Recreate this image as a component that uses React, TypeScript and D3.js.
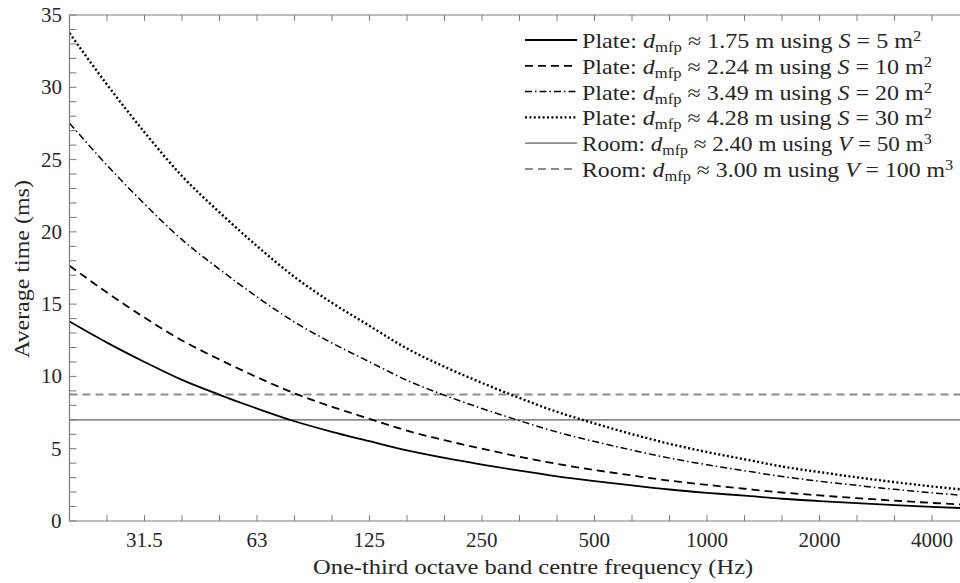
import React, { useLayoutEffect, useRef, useState } from "react";
import * as d3 from "d3";

const bands = ["20","25","31.5","40","50","63","80","100","125","160","200","250","315","400","500","630","800","1000","1250","1600","2000","2500","3150","4000","5000"];
const labelledBands = ["31.5","63","125","250","500","1000","2000","4000"];

const plate5 = [13.80,12.34,11.00,9.76,8.73,7.78,6.90,6.17,5.52,4.88,4.36,3.90,3.48,3.09,2.76,2.46,2.18,1.95,1.75,1.54,1.38,1.23,1.10,0.98,0.87];
const plate10 = [17.66,15.80,14.07,12.49,11.17,9.95,8.83,7.90,7.07,6.25,5.59,5.00,4.45,3.95,3.53,3.15,2.79,2.50,2.23,1.97,1.77,1.58,1.41,1.25,1.12];
const plate20 = [27.52,24.61,21.93,19.46,17.41,15.50,13.76,12.31,11.01,9.73,8.70,7.78,6.94,6.15,5.50,4.90,4.35,3.89,3.48,3.08,2.75,2.46,2.19,1.95,1.74];
const plate30 = [33.75,30.19,26.89,23.86,21.35,19.02,16.88,15.09,13.50,11.93,10.67,9.55,8.51,7.55,6.75,6.01,5.34,4.77,4.27,3.77,3.38,3.02,2.69,2.39,2.13];
const room50 = 7.0;
const room100 = 8.75;

const yTicks = [0,5,10,15,20,25,30,35];

const legendRows = [
  { kind: "Plate", d: "1.75", sym: "S", val: "5", unit: "2" },
  { kind: "Plate", d: "2.24", sym: "S", val: "10", unit: "2" },
  { kind: "Plate", d: "3.49", sym: "S", val: "20", unit: "2" },
  { kind: "Plate", d: "4.28", sym: "S", val: "30", unit: "2" },
  { kind: "Room", d: "2.40", sym: "V", val: "50", unit: "3" },
  { kind: "Room", d: "3.00", sym: "V", val: "100", unit: "3" },
];
const legendWidths = [340, 350, 350, 350, 350, 371];

const styles = [
  { stroke: "#000", width: 1.8, dash: "" },
  { stroke: "#000", width: 1.8, dash: "8,5" },
  { stroke: "#000", width: 1.5, dash: "7,3,1.5,3" },
  { stroke: "#000", width: 2.4, dash: "2,2.4" },
  { stroke: "#8c8c8c", width: 1.8, dash: "" },
  { stroke: "#8c8c8c", width: 1.8, dash: "8,5" },
];

const FF = "'Liberation Serif', 'Times New Roman', serif";
const TXT = "#262626";
const AX = "#7a7a7a";

type LP = { x: number; y: number; size: number; anchor?: "start" | "middle" | "end"; target?: number; rotate?: number; children: React.ReactNode };
function Label({ x, y, size, anchor = "start", target, rotate, children }: LP) {
  const ref = useRef<HTMLDivElement>(null);
  const [w, setW] = useState(0);
  useLayoutEffect(() => {
    if (ref.current) setW(ref.current.offsetWidth);
  }, []);
  const s = target && w ? target / w : 1;
  const shift = anchor === "middle" ? -(w * s) / 2 : anchor === "end" ? -w * s : 0;
  return (
    <div ref={ref} style={{
      position: "absolute", left: x, top: y, fontSize: size, lineHeight: 1, whiteSpace: "nowrap",
      fontFamily: FF, color: TXT, transformOrigin: "0 0",
      transform: `${rotate ? `rotate(${rotate}deg) ` : ""}translate(${shift}px, -50%) scaleX(${s})`,
    }}>{children}</div>
  );
}

export default function App() {
  const W = 960, H = 583;
  const left = 69.5, top = 15, bottom = 521;
  const x = d3.scaleLinear().domain([0, bands.length - 1]).range([left, left + 37.5 * (bands.length - 1)]);
  const y = d3.scaleLinear().domain([0, 35]).range([bottom, top]);
  const line = d3.line<number>().x((_, i) => x(i)).y(d => y(d)).curve(d3.curveMonotoneX);
  const series = [plate5, plate10, plate20, plate30];
  const minorY = d3.range(0, 36, 1);
  const xr = x.range()[1];

  return (
    <div style={{ position: "absolute", left: 0, top: 0, width: W, height: H, overflow: "hidden", background: "#fff" }}>
      <svg width={W} height={H} style={{ position: "absolute", left: 0, top: 0 }}>
        <rect x={0} y={0} width={W} height={H} fill="#fff" />
        <defs>
          <clipPath id="plotclip">
            <rect x={left} y={top} width={xr - left} height={bottom - top} />
          </clipPath>
        </defs>
        <g clipPath="url(#plotclip)">
          {[room50, room100].map((v, k) => (
            <line key={k} x1={left} x2={xr} y1={y(v)} y2={y(v)} stroke={styles[4 + k].stroke}
              strokeWidth={styles[4 + k].width} strokeDasharray={styles[4 + k].dash} />
          ))}
          {series.map((s, k) => (
            <path key={k} d={line(s) || ""} fill="none" stroke={styles[k].stroke}
              strokeWidth={styles[k].width} strokeDasharray={styles[k].dash} />
          ))}
        </g>
        <line x1={left} x2={left} y1={top} y2={bottom} stroke={AX} strokeWidth={1.2} />
        <line x1={left} x2={xr} y1={bottom} y2={bottom} stroke={AX} strokeWidth={1.2} />
        <line x1={left} x2={xr} y1={top} y2={top} stroke={AX} strokeWidth={1.2} />
        {bands.map((b, i) => (
          <g key={b}>
            <line x1={x(i)} x2={x(i)} y1={bottom} y2={bottom - 6} stroke={AX} strokeWidth={1} />
            <line x1={x(i)} x2={x(i)} y1={top} y2={top + 6} stroke={AX} strokeWidth={1} />
          </g>
        ))}
        {minorY.map(v => (
          <line key={v} x1={left} x2={left + 7} y1={y(v)} y2={y(v)} stroke={AX} strokeWidth={1} />
        ))}
        {legendRows.map((r, k) => {
          const cy = 40 + k * 25.8;
          return (
            <line key={k} x1={525} x2={577} y1={cy} y2={cy} stroke={styles[k].stroke}
              strokeWidth={styles[k].width} strokeDasharray={styles[k].dash} />
          );
        })}
      </svg>
      {bands.map((b, i) => labelledBands.includes(b) ? (
        <Label key={b} x={x(i)} y={540} size={21} anchor="middle">{b}</Label>
      ) : null)}
      {yTicks.map(v => (
        <Label key={v} x={62} y={y(v)} size={21} anchor="end">{v}</Label>
      ))}
      <Label x={533} y={567} size={21} anchor="middle" target={440}>One-third octave band centre frequency (Hz)</Label>
      <Label x={22} y={269} size={21} anchor="middle" target={178} rotate={-90}>Average time (ms)</Label>
      {legendRows.map((r, k) => {
        const cy = 40 + k * 25.8;
        return (
          <Label key={k} x={582} y={cy + 1} size={21} target={legendWidths[k]}>
            {r.kind}: <i>d</i>
            <span style={{ fontSize: 14.5, position: "relative", top: 4 }}>mfp</span>
            {` ≈ ${r.d} m using `}<i>{r.sym}</i>{` = ${r.val} m`}
            <span style={{ fontSize: 14.5, position: "relative", top: -7 }}>{r.unit}</span>
          </Label>
        );
      })}
    </div>
  );
}
